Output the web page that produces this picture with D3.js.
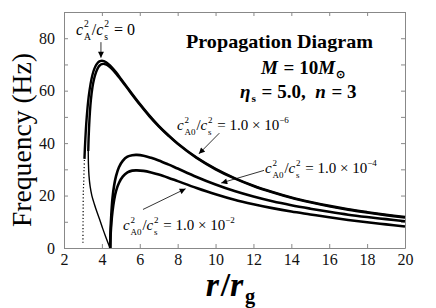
<!DOCTYPE html>
<html>
<head>
<meta charset="utf-8">
<script src="https://cdn.jsdelivr.net/npm/d3@7"></script>
<style>
  body { margin: 0; background: #fff; }
  .axis path, .axis line { stroke: #888; }
</style>
</head>
<body>
<div class="chart"></div>
<script>
// tick values
var xTicks = [2, 4, 6, 8, 10, 12, 14, 16, 18, 20];
var yTicks = [0, 10, 20, 30, 40, 50, 60, 70, 80, 90];
var yLabels = [0, 20, 40, 60, 80];

// c_A^2/c_s^2 = 0 (near r=3 it is only a dotted trace)
var rKappaDot = [3.0, 3.003, 3.01, 3.02, 3.04, 3.06, 3.08];
var fKappaDot = [2, 7, 12.8, 21.7, 24.7, 29.9, 34.0];
var rKappa = [3.08, 3.1, 3.15, 3.2, 3.3, 3.4, 3.5, 3.6, 3.7, 3.8, 3.9, 4.0, 4.1, 4.2, 4.35, 4.5, 4.75, 5, 5.5, 6, 6.5, 7, 7.5, 8, 9, 10, 11, 12, 13, 14, 15, 16, 17, 18, 19, 20];
var fKappa = [34.0, 37.6, 44.6, 49.9, 57.5, 62.5, 66.0, 68.3, 69.8, 70.8, 71.3, 71.4, 71.3, 70.9, 70.1, 69.1, 67.0, 64.6, 59.7, 55.0, 50.6, 46.6, 43.1, 39.9, 34.5, 30.2, 26.7, 23.8, 21.4, 19.3, 17.6, 16.1, 14.8, 13.7, 12.7, 11.8];

// c_A0^2/c_s^2 = 1.0e-6 (upper part and thin lower branch)
var rSix = [3.28, 3.3, 3.33, 3.37, 3.42, 3.5, 3.6, 3.7, 3.8, 3.9, 4.0, 4.1, 4.2, 4.35, 4.5, 4.75, 5, 5.5, 6, 6.5, 7, 7.5, 8, 9, 10, 11, 12, 13, 14, 15, 16, 17, 18, 19, 20];
var fSix = [37, 42, 47, 52, 56.5, 61.2, 64.8, 67.2, 68.8, 69.7, 70.1, 70.2, 70.0, 69.4, 68.5, 66.5, 64.2, 59.4, 54.7, 50.3, 46.4, 42.9, 39.7, 34.3, 30.0, 26.5, 23.6, 21.2, 19.1, 17.4, 15.9, 14.6, 13.5, 12.5, 11.6];
var rSixLow = [3.28, 3.29, 3.32, 3.38, 3.47, 3.6, 3.75, 3.9, 4.05, 4.2, 4.32, 4.43];
var fSixLow = [37, 32, 27.5, 23.5, 20, 16.8, 13.5, 10.5, 7.3, 4.3, 2.0, 0];

// c_A0^2/c_s^2 = 1.0e-4 and 1.0e-2 share the same r grid
var rMag = [4.44, 4.46, 4.5, 4.56, 4.65, 4.75, 4.9, 5.1, 5.35, 5.6, 5.85, 6.2, 6.6, 7, 7.5, 8, 9, 10, 11, 12, 13, 14, 15, 16, 17, 18, 19, 20];
var fFour = [0, 7, 13, 19, 24, 27.5, 30.8, 33.2, 34.8, 35.4, 35.5, 35.2, 34.4, 33.4, 31.9, 30.3, 27.1, 24.2, 21.7, 19.6, 17.8, 16.3, 15.0, 13.8, 12.7, 11.8, 11.0, 10.2];
var fTwo = [0, 5, 9.5, 14, 18.5, 21.8, 24.8, 27.2, 28.8, 29.5, 29.6, 29.4, 28.8, 28.0, 26.8, 25.5, 22.9, 20.5, 18.4, 16.7, 15.2, 13.9, 12.8, 11.7, 10.7, 9.8, 9.0, 8.2];

var TIMES = "'Liberation Serif'";

var svgWidth = 436;
var svgHeight = 308;
var margin = { top: 12, right: 31, bottom: 60, left: 64 };
var width = svgWidth - margin.left - margin.right;
var height = svgHeight - margin.top - margin.bottom;

var svg = d3.select(".chart")
    .append("svg")
    .attr("width", svgWidth)
    .attr("height", svgHeight);

var chart = svg.append("g")
    .attr("transform", "translate(" + margin.left + "," + margin.top + ")");

var x = d3.scaleLinear().domain([2, 20]).range([0, width]);
var y = d3.scaleLinear().domain([0, 90]).range([height, 0]);

// arrow head
svg.append("defs").append("marker")
    .attr("id", "arrow")
    .attr("viewBox", "0 0 10 10")
    .attr("refX", 10)
    .attr("refY", 5)
    .attr("markerUnits", "userSpaceOnUse")
    .attr("markerWidth", 7)
    .attr("markerHeight", 6)
    .attr("orient", "auto")
    .append("path")
    .attr("d", "M0,0 L10,5 L0,10 z")
    .attr("fill", "#000");

// axes, ticks point inward on all sides
chart.append("g")
    .attr("class", "axis")
    .attr("transform", "translate(0," + height + ")")
    .call(d3.axisBottom(x).tickValues(xTicks).tickSize(-4).tickSizeOuter(0).tickPadding(6));

chart.append("g")
    .attr("class", "axis")
    .call(d3.axisTop(x).tickValues(xTicks).tickSize(-4).tickSizeOuter(0).tickFormat(""));

chart.append("g")
    .attr("class", "axis")
    .call(d3.axisLeft(y).tickValues(yTicks).tickSize(-4).tickSizeOuter(0).tickPadding(9)
        .tickFormat(function(d) { return yLabels.indexOf(d) >= 0 ? d : ""; }));

chart.append("g")
    .attr("class", "axis")
    .attr("transform", "translate(" + width + ",0)")
    .call(d3.axisRight(y).tickValues(yTicks).tickSize(-4).tickSizeOuter(0).tickFormat(""));

chart.selectAll(".axis").attr("font-family", null);
chart.selectAll(".axis text")
    .style("font-family", TIMES)
    .style("font-size", "16px")
    .style("fill", "#111");

// curves
function pts(rs, fs) {
    return rs.map(function(r, i) { return [r, fs[i]]; });
}

var line = d3.line()
    .x(function(d) { return x(d[0]); })
    .y(function(d) { return y(d[1]); })
    .curve(d3.curveCatmullRom.alpha(0.5));

chart.append("path")
    .datum(pts(rKappaDot, fKappaDot))
    .attr("d", line)
    .attr("fill", "none")
    .attr("stroke", "#000")
    .attr("stroke-width", 1.2)
    .attr("stroke-dasharray", "1.2,2.2");

var curves = [
    { d: pts(rKappa, fKappa), w: 2.4 },
    { d: pts(rSix, fSix), w: 2.4 },
    { d: pts(rSixLow, fSixLow), w: 1.4 },
    { d: pts(rMag, fFour), w: 2.6 },
    { d: pts(rMag, fTwo), w: 2.6 }
];

chart.selectAll(".curve")
    .data(curves)
    .enter()
    .append("path")
    .attr("class", "curve")
    .attr("d", function(c) { return line(c.d); })
    .attr("fill", "none")
    .attr("stroke", "#000")
    .attr("stroke-width", function(c) { return c.w; })
    .attr("stroke-linejoin", "round");

// annotation arrows, in data units
var arrows = [
    [3.95, 78.5, 3.95, 72.6],
    [10.2, 43.8, 9.12, 35.9],
    [12.56, 29.6, 10.3, 24.8],
    [6.17, 14.7, 8.42, 22.6]
];

chart.selectAll(".arrow")
    .data(arrows)
    .enter()
    .append("line")
    .attr("class", "arrow")
    .attr("x1", function(a) { return x(a[0]); })
    .attr("y1", function(a) { return y(a[1]); })
    .attr("x2", function(a) { return x(a[2]); })
    .attr("y2", function(a) { return y(a[3]); })
    .attr("stroke", "#000")
    .attr("stroke-width", 0.8)
    .attr("marker-end", "url(#arrow)");

// text built from pieces: {t, i, b} or {sup, sub}
function mathText(parent, x0, y0, pieces, size, bold) {
    var g = parent.append("g");
    var cx = x0;
    function put(str, px, py, fs, italic, b) {
        var t = g.append("text")
            .attr("x", px)
            .attr("y", py)
            .style("font-family", TIMES)
            .style("font-size", fs + "px")
            .style("font-style", italic ? "italic" : "normal")
            .style("font-weight", b ? "bold" : "normal")
            .text(str);
        return t.node().getComputedTextLength();
    }
    pieces.forEach(function(p) {
        if (p.t !== undefined) {
            cx += put(p.t, cx, y0, size, p.i, p.b || bold);
            if (p.i) cx += size * 0.05;
        } else {
            var w = 0;
            if (p.sup) w = Math.max(w, put(p.sup, cx, y0 - size * 0.48, size * 0.6, false, bold));
            if (p.sub) w = Math.max(w, put(p.sub, cx, y0 + size * (p.sup ? 0.3 : 0.2), size * 0.6, false, bold));
            cx += w + 1;
        }
    });
    return { g: g, w: cx - x0 };
}

mathText(svg, 76, 35, [
    { t: "c", i: true }, { sup: "2", sub: "A" }, { t: "/" },
    { t: "c", i: true }, { sup: "2", sub: "s" }, { t: "\u00a0=\u00a00" }
], 16);

var magLabels = [
    { x: 177, y: 130, e: "\u22126" },
    { x: 265, y: 173, e: "\u22124" },
    { x: 123, y: 230, e: "\u22122" }
];
magLabels.forEach(function(m) {
    mathText(svg, m.x, m.y, [
        { t: "c", i: true }, { sup: "2", sub: "A0" }, { t: "/" },
        { t: "c", i: true }, { sup: "2", sub: "s" },
        { t: "\u00a0=\u00a01.0\u00a0\u00d7\u00a010" }, { sup: m.e }
    ], 15);
});

// title block
svg.append("text")
    .attr("x", 186)
    .attr("y", 48)
    .attr("textLength", 187)
    .attr("lengthAdjust", "spacingAndGlyphs")
    .style("font-family", TIMES)
    .style("font-size", "19px")
    .style("font-weight", "bold")
    .text("Propagation Diagram");

mathText(svg, 261, 74, [
    { t: "M", i: true }, { t: "\u00a0=\u00a010" }, { t: "M", i: true }, { sub: "\u2299" }
], 19, true);

mathText(svg, 240, 98, [
    { t: "\u03b7", i: true }, { sub: "s" }, { t: "\u00a0=\u00a05.0,\u00a0\u00a0" }, { t: "n", i: true }, { t: "\u00a0=\u00a03" }
], 19, true);

// axis titles
var xt = mathText(svg, 0, 296, [
    { t: "r", i: true }, { t: "/" }, { t: "r", i: true }, { sub: "g" }
], 34, true);
xt.g.attr("transform", "translate(" + (231 - xt.w / 2) + ",0)");

svg.append("text")
    .attr("transform", "translate(31,140) rotate(-90)")
    .attr("text-anchor", "middle")
    .attr("textLength", 174)
    .attr("lengthAdjust", "spacingAndGlyphs")
    .style("font-family", TIMES)
    .style("font-size", "27px")
    .text("Frequency (Hz)");
</script>
</body>
</html>
